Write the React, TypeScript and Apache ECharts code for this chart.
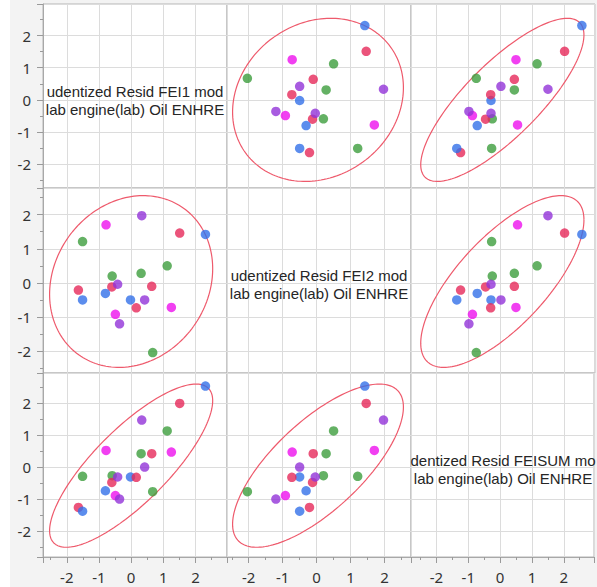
import React, { useEffect, useRef } from 'react';
import * as echarts from 'echarts';

// Studentized residuals
const fei1 = [-0.78, 0.33, -1.51, 1.51, 2.31, 1.12, -0.59, 0.31, -1.64, -1.51, -0.60, -0.42, -0.80, 0.64, -0.02, 0.42, 0.16, 1.25, -0.49, -0.36, 0.67];
const fei2 = [1.70, 1.97, 1.21, 1.46, 1.42, 0.50, 0.20, 0.28, -0.21, -0.50, -0.12, -0.04, -0.31, -0.10, -0.50, -0.50, -0.73, -0.72, -0.92, -1.20, -2.04];
const feisum = [0.53, 1.48, -0.28, 2.00, 2.54, 1.14, -0.26, 0.43, -1.25, -1.37, -0.47, -0.30, -0.73, 0.43, -0.30, 0.01, -0.31, 0.48, -0.88, -0.99, -0.76];
// colour group of each point: 0 blue, 1 red, 2 green, 3 magenta, 4 purple
const pointGroup = [3, 4, 2, 1, 0, 2, 2, 2, 1, 0, 1, 4, 0, 1, 0, 4, 1, 3, 3, 4, 2];
const groupColors = ['#3370e8', '#e6295a', '#3d9e3d', '#ee10ee', '#9233d8'];

const diagLine1 = ['udentized Resid FEI1 mod', 'udentized Resid FEI2 mod', 'dentized Resid FEISUM mo'];
const diagLine2 = ['lab engine(lab) Oil ENHRE', 'lab engine(lab) Oil ENHRE', 'lab engine(lab) Oil ENHRE'];
const axisMin = [-2.74, -2.64, -2.8];
const axisMax = [2.98, 2.78, 2.95];

const variables = [fei1, fei2, feisum];

const colLeft = [33, 217, 401];
const rowTop = [4, 188, 373];
const rowHeight = [184, 185, 184];
const panelWidth = 184;

function ellipsePoints(xs: number[], ys: number[]) {
  const n = xs.length;
  const mx = xs.reduce((a, b) => a + b, 0) / n;
  const my = ys.reduce((a, b) => a + b, 0) / n;
  let sxx = 0, syy = 0, sxy = 0;
  for (let i = 0; i < n; i++) {
    sxx += (xs[i] - mx) ** 2;
    syy += (ys[i] - my) ** 2;
    sxy += (xs[i] - mx) * (ys[i] - my);
  }
  sxx /= n - 1; syy /= n - 1; sxy /= n - 1;
  const k = Math.sqrt(5.991);
  const a = Math.sqrt(sxx);
  const b = sxy / a;
  const d = Math.sqrt(Math.max(syy - b * b, 0));
  const pts: number[][] = [];
  for (let t = 0; t <= 180; t++) {
    const th = (t / 180) * Math.PI * 2;
    pts.push([mx + k * a * Math.cos(th), my + k * (b * Math.cos(th) + d * Math.sin(th))]);
  }
  return pts;
}

const labelFmt = (v: number) => (Math.abs(v - Math.round(v)) < 1e-9 ? String(Math.round(v)) : '');

export default function App() {
  const ref = useRef<HTMLDivElement>(null);
  useEffect(() => {
    if (!ref.current) return;
    const chart = echarts.init(ref.current, undefined, { renderer: 'svg' });
    const grids: any[] = [];
    const xAxes: any[] = [];
    const yAxes: any[] = [];
    const series: any[] = [];
    const graphics: any[] = [];
    const tickLabel = { color: '#333333', fontSize: 15, fontFamily: 'Noto Sans' };
    for (let r = 0; r < 3; r++) {
      for (let c = 0; c < 3; c++) {
        const g = r * 3 + c;
        grids.push({
          left: colLeft[c], top: rowTop[r], width: panelWidth, height: rowHeight[r],
          show: true, backgroundColor: '#ffffff', borderColor: '#b4b4b4', borderWidth: 1,
        });
        const showX = r === 2;
        const showY = c === 0;
        xAxes.push({
          type: 'value', gridIndex: g, min: axisMin[c], max: axisMax[c], minInterval: 1, maxInterval: 1,
          position: 'bottom',
          axisLine: { show: showX, onZero: false, lineStyle: { color: '#a8a8a8' } },
          axisTick: { show: showX, length: 6, lineStyle: { color: '#9a9a9a' } },
          minorTick: { show: showX, splitNumber: 2, length: 3, lineStyle: { color: '#9a9a9a' } },
          axisLabel: { show: showX, margin: 12, formatter: labelFmt, ...tickLabel },
          splitLine: { show: true, lineStyle: { color: '#dcdcdc', width: 1 } },
        });
        yAxes.push({
          type: 'value', gridIndex: g, min: axisMin[r], max: axisMax[r], minInterval: 1, maxInterval: 1,
          position: 'left',
          axisLine: { show: showY, onZero: false, lineStyle: { color: '#a8a8a8' } },
          axisTick: { show: showY, length: 6, lineStyle: { color: '#9a9a9a' } },
          minorTick: { show: showY, splitNumber: 2, length: 3, lineStyle: { color: '#9a9a9a' } },
          axisLabel: { show: showY, margin: 12, formatter: labelFmt, ...tickLabel },
          splitLine: { show: true, lineStyle: { color: '#dcdcdc', width: 1 } },
        });
        if (r === c) {
          const cx = colLeft[c] + panelWidth / 2;
          const cy = rowTop[r] + rowHeight[r] / 2;
          graphics.push({
            type: 'text', x: cx, y: cy - 5,
            style: {
              text: diagLine1[r], align: 'center', verticalAlign: 'middle',
              fill: '#262626', font: '15px "Liberation Sans"',
            },
            z: 10,
          });
          graphics.push({
            type: 'text', x: cx, y: cy + 13,
            style: {
              text: diagLine2[r], align: 'center', verticalAlign: 'middle',
              fill: '#262626', font: '15px "Liberation Sans"',
            },
            z: 10,
          });
        } else {
          const xs = variables[c];
          const ys = variables[r];
          series.push({
            type: 'line', xAxisIndex: g, yAxisIndex: g, data: ellipsePoints(xs, ys),
            showSymbol: false, symbol: 'none', smooth: false, silent: true,
            lineStyle: { color: '#ee5a6c', width: 1.2 }, z: 2,
          });
          series.push({
            type: 'scatter', xAxisIndex: g, yAxisIndex: g, symbolSize: 9.5,
            data: xs.map((x, i) => ({ value: [x, ys[i]], itemStyle: { color: groupColors[pointGroup[i]] } })),
            z: 3,
          });
        }
      }
    }
    chart.setOption({
      animation: false,
      backgroundColor: '#f3f3f3',
      grid: grids,
      xAxis: xAxes,
      yAxis: yAxes,
      series,
      graphic: graphics,
    });
    return () => chart.dispose();
  }, []);
  return (
    <div style={{ position: 'absolute', left: 0, top: 0, width: 597, height: 587, background: '#ffffff' }}>
      <div ref={ref} style={{ position: 'absolute', left: 10, top: 0, width: 587, height: 587 }} />
    </div>
  );
}
